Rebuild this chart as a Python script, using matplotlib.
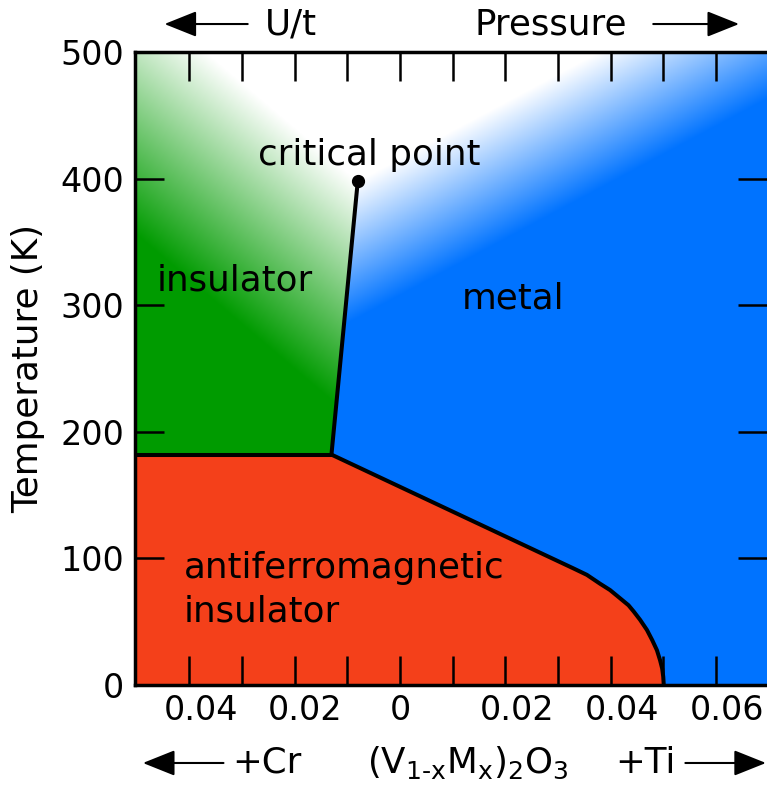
import numpy as np
import matplotlib
matplotlib.use('Agg')
import matplotlib.pyplot as plt
from matplotlib.path import Path
from matplotlib.colors import to_rgb

# phase boundaries (x = doping, negative = Cr side, positive = Ti side; T in K)
afi_x = [-0.013, 0.0330, 0.0355, 0.0380, 0.0399, 0.0418, 0.0434, 0.0444,
         0.0456, 0.0469, 0.0479, 0.0488, 0.0494, 0.0498, 0.0500, 0.0501]
afi_t = [182, 92, 87, 80, 75, 68.5, 63, 58, 51.5, 43.5, 35.5, 27.5, 19.5, 13, 6.5, 0]
mit_x = [-0.013, -0.008]          # insulator / metal line up to the critical point
mit_t = [182, 398]
crit_x, crit_t = -0.008, 398

# colour gradients (white end, full colour end)
green_grad = [(-0.008, 398), (-0.0307, 287)]
blue_grad = [(-0.008, 398), (0.0028, 314)]

xtick_pos = [-0.04, -0.03, -0.02, -0.01, 0.0, 0.01, 0.02, 0.03, 0.04, 0.05, 0.06]
xlab_pos = [-0.0378, -0.0181, 0.0, 0.0222, 0.0422, 0.0622]
xlab_txt = ['0.04', '0.02', '0', '0.02', '0.04', '0.06']
ytick_pos = [0, 100, 200, 300, 400, 500]

c_red = '#f4401a'
c_green = '#009b00'
c_blue = '#0073ff'

plt.rcParams['mathtext.default'] = 'regular'

fig = plt.figure(figsize=(7.67, 7.85), dpi=100)
ax = fig.add_axes([135/767, 100/785, 632/767, 633/785])
x0, x1 = -0.0503, 0.0697
ax.set_xlim(x0, x1)
ax.set_ylim(0, 500)

# background image
nx, ny = 632, 633
sx = nx / (x1 - x0)
sy = ny / 500.0
X, T = np.meshgrid(np.linspace(x0, x1, nx), np.linspace(0, 500, ny))

def grad(g):
    (ax0, at0), (ax1, at1) = g
    dx, dt = (ax1 - ax0) * sx, (at1 - at0) * sy
    t = ((X - ax0) * sx * dx + (T - at0) * sy * dt) / (dx**2 + dt**2)
    return np.clip(t, 0, 1)[..., None]

white = np.ones(3)
img_green = white * (1 - grad(green_grad)) + np.array(to_rgb(c_green)) * grad(green_grad)
img_blue = white * (1 - grad(blue_grad)) + np.array(to_rgb(c_blue)) * grad(blue_grad)
xline = mit_x[0] + (T - mit_t[0]) * (mit_x[1] - mit_x[0]) / (mit_t[1] - mit_t[0])
img = np.where((X < xline)[..., None], img_green, img_blue)

poly = [(x0, 0), (x0, afi_t[0])] + list(zip(afi_x, afi_t))
inside = Path(poly).contains_points(np.c_[X.ravel(), T.ravel()]).reshape(X.shape)
img[inside] = to_rgb(c_red)

ax.imshow(img, extent=(x0, x1, 0, 500), origin='lower', aspect='auto',
          interpolation='nearest', zorder=0)

# boundaries
lw = 2.9
ax.plot([x0, afi_x[0]], [afi_t[0], afi_t[0]], color='k', lw=lw, zorder=3)
ax.plot(afi_x, afi_t, color='k', lw=lw, zorder=3, solid_capstyle='butt')
ax.plot(mit_x, mit_t, color='k', lw=lw, zorder=3)
ax.plot([crit_x], [crit_t], 'o', color='k', ms=8.5, zorder=4)

# region labels
fs = 25.7
ax.text(-0.0059, 410.7, 'critical point', fontsize=fs, ha='center', va='baseline')
ax.text(-0.0313, 311.8, 'insulator', fontsize=fs, ha='center', va='baseline')
ax.text(0.0214, 297, 'metal', fontsize=fs, ha='center', va='baseline')
ax.text(-0.0411, 84.3, 'antiferromagnetic', fontsize=fs, ha='left', va='baseline')
ax.text(-0.0411, 50, 'insulator', fontsize=fs, ha='left', va='baseline')

# axes styling
for s in ['top', 'left', 'bottom']:
    ax.spines[s].set_linewidth(2.5)
ax.spines['right'].set_visible(False)
ax.set_xticks(xtick_pos)
ax.set_yticks(ytick_pos)
ax.tick_params(axis='x', direction='in', length=21, width=1.8, top=True, bottom=True,
               labelbottom=False)
ax.tick_params(axis='y', direction='in', length=21, width=1.8, left=True, right=True,
               labelsize=24, pad=8)
ax.set_ylabel('Temperature (K)', fontsize=fs)
ax.yaxis.set_label_coords(-0.142, 0.5)

tr = ax.get_xaxis_transform()
for xp, lab in zip(xlab_pos, xlab_txt):
    ax.text(xp, -0.0553, lab, fontsize=24, ha='center', va='baseline', transform=tr)

# top annotations
arrow = dict(arrowstyle='-|>,head_length=1.0,head_width=0.4', color='k', lw=1.5,
             mutation_scale=20, shrinkA=0, shrinkB=0)
ax.annotate('', xy=(-0.0447, 1.0442), xytext=(-0.0289, 1.0442), xycoords=tr,
            textcoords=tr, arrowprops=arrow, annotation_clip=False)
ax.text(-0.0207, 1.0269, 'U/t', fontsize=fs, ha='center', va='baseline', transform=tr)
ax.text(0.0287, 1.0269, 'Pressure', fontsize=fs, ha='center', va='baseline', transform=tr)
ax.annotate('', xy=(0.0644, 1.0442), xytext=(0.0481, 1.0442), xycoords=tr,
            textcoords=tr, arrowprops=arrow, annotation_clip=False)

# bottom annotations
ax.annotate('', xy=(-0.0488, -0.1232), xytext=(-0.0335, -0.1232), xycoords=tr,
            textcoords=tr, arrowprops=arrow, annotation_clip=False)
ax.text(-0.0253, -0.139, '+Cr', fontsize=fs, ha='center', va='baseline', transform=tr)
ax.text(0.0129, -0.139, '(V$_{1\u2010x}$M$_x$)$_2$O$_3$', fontsize=fs, ha='center',
        va='baseline', transform=tr)
ax.text(0.0467, -0.139, '+Ti', fontsize=fs, ha='center', va='baseline', transform=tr)
ax.annotate('', xy=(0.0695, -0.1232), xytext=(0.0542, -0.1232), xycoords=tr,
            textcoords=tr, arrowprops=arrow, annotation_clip=False)

fig.savefig('out.png', dpi=100)
